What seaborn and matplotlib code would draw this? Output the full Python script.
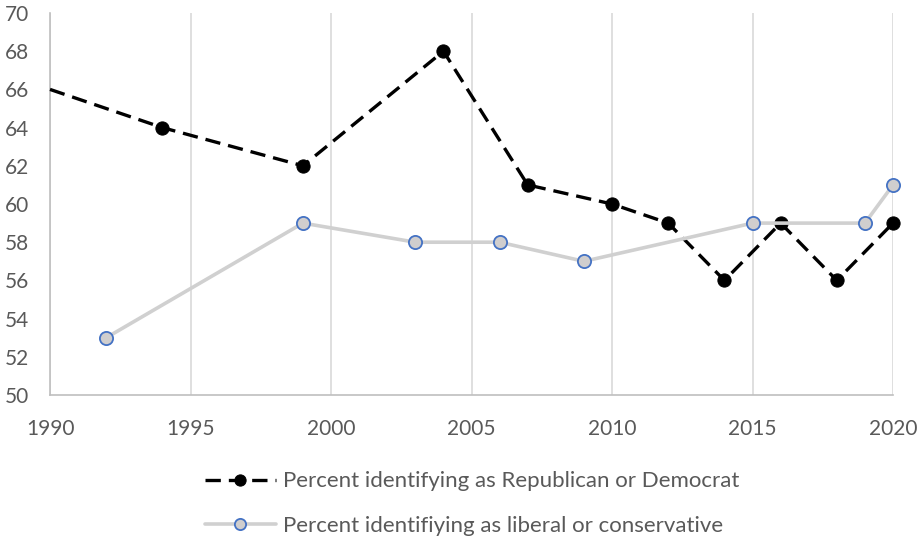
import matplotlib
matplotlib.use("Agg")
import matplotlib.pyplot as plt
import seaborn as sns
import pandas as pd

# Party identification (Republican or Democrat)
party_years = [1990, 1994, 1999, 2004, 2007, 2010, 2012, 2014, 2016, 2018, 2020]
party_pct = [66, 64, 62, 68, 61, 60, 59, 56, 59, 56, 59]

# Ideological identification (liberal or conservative)
ideo_years = [1992, 1999, 2003, 2006, 2009, 2015, 2019, 2020]
ideo_pct = [53, 59, 58, 58, 57, 59, 59, 61]

party_label = "Percent identifying as Republican or Democrat"
ideo_label = "Percent identifiying as liberal or conservative"

x_ticks = [1990, 1995, 2000, 2005, 2010, 2015, 2020]
y_ticks = [50, 52, 54, 56, 58, 60, 62, 64, 66, 68, 70]

sns.set_theme(style="white")
plt.rcParams["font.family"] = ["Lato", "DejaVu Sans"]

party_df = pd.DataFrame({"year": party_years, "pct": party_pct})
ideo_df = pd.DataFrame({"year": ideo_years, "pct": ideo_pct})

fig = plt.figure(figsize=(9.18, 5.38), dpi=100)
ax = fig.add_axes([0.0545, 0.2658, 0.9183, 0.7100])

sns.lineplot(data=party_df, x="year", y="pct", ax=ax, color="black",
             linewidth=2.4, marker="o", markersize=9.5, markeredgecolor="black",
             markerfacecolor="black", markevery=list(range(1, len(party_years))),
             label=party_label, clip_on=False, zorder=3)
ax.lines[-1].set_dashes([4.6, 2.4])

sns.lineplot(data=ideo_df, x="year", y="pct", ax=ax, color="#D0D0D0",
             linewidth=2.6, marker="o", markersize=9.5, markeredgecolor="#4472C4",
             markeredgewidth=1.3, markerfacecolor="#D0CECE",
             label=ideo_label, clip_on=False, zorder=4)

ax.set_xlim(1990, 2020)
ax.set_ylim(50, 70)
ax.set_xticks(x_ticks)
ax.set_yticks(y_ticks)
ax.set_xlabel("")
ax.set_ylabel("")
ax.tick_params(axis="both", labelsize=15, labelcolor="#595959", length=0)
ax.tick_params(axis="y", pad=15)
ax.tick_params(axis="x", pad=17)
ax.xaxis.grid(True, color="#D9D9D9", linewidth=1.2)
ax.yaxis.grid(False)
for side in ["top", "right"]:
    ax.spines[side].set_visible(False)
for side in ["left", "bottom"]:
    ax.spines[side].set_color("#BFBFBF")
    ax.spines[side].set_linewidth(1.2)

leg = ax.legend(loc="center", bbox_to_anchor=(0.514, 0.064),
                bbox_transform=fig.transFigure, ncol=1,
                frameon=False, fontsize=16, handlelength=3.2, labelspacing=1.1,
                handletextpad=0.3, borderpad=0, markerscale=0.85)
for t in leg.get_texts():
    t.set_color("#595959")

fig.savefig("out.png", dpi=100)
